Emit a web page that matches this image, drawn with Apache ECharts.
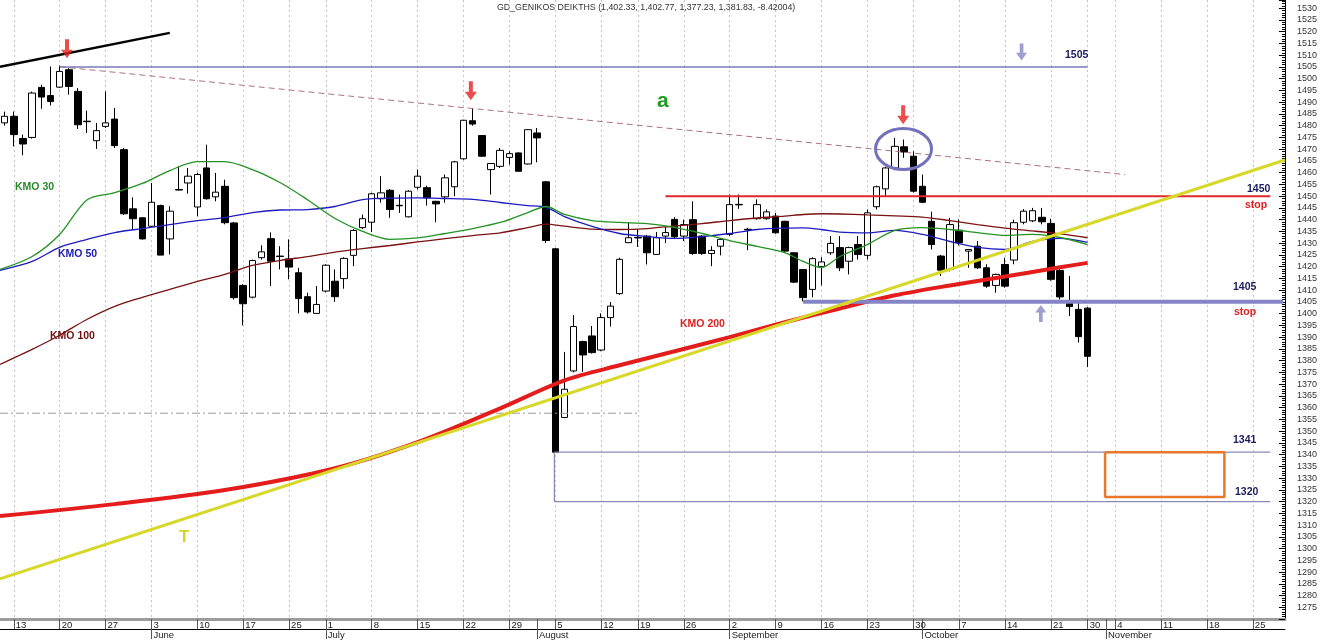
<!DOCTYPE html>
<html><head><meta charset="utf-8">
<script src="https://cdn.jsdelivr.net/npm/echarts@6/dist/echarts.min.js"></script>
<style>html,body{margin:0;padding:0;background:#fff}#c{width:1320px;height:640px}</style>
</head><body><div id="c"></div>
<script>
// ---------- DATA ----------
const N_SLOTS = 140; // trading-day slots on the x axis (incl. future)
// daily candles: [open, close, low, high], slot 0 .. 118
const candles = [
 [1481.2,1484.0,1480.0,1486.0],[1484.0,1476.2,1471.2,1486.0],[1474.5,1472.2,1467.4,1476.2],[1475.0,1493.9,1474.5,1494.5],
 [1496.3,1492.2,1487.2,1497.4],[1492.8,1490.3,1488.6,1505.2],[1496.4,1503.1,1496.0,1505.6],[1503.8,1496.7,1493.2,1504.5],
 [1494.6,1480.4,1478.6,1496.0],[1481.9,1481.7,1476.9,1486.4],[1473.6,1477.9,1470.1,1481.2],[1479.7,1481.2,1479.0,1494.6],
 [1482.8,1471.5,1470.5,1487.5],[1469.8,1442.5,1442.0,1470.5],[1444.6,1440.4,1435.8,1449.5],[1440.8,1431.8,1431.5,1441.0],
 [1437.2,1447.4,1437.0,1455.6],[1446.0,1424.9,1424.9,1446.4],[1431.8,1443.6,1425.2,1445.7],[1452.8,1452.6,1452.5,1462.7],
 [1455.6,1458.5,1451.1,1462.0],[1445.4,1459.2,1441.4,1460.0],[1462.0,1448.9,1448.5,1471.9],[1449.7,1451.7,1447.8,1459.9],
 [1454.2,1438.7,1438.0,1457.0],[1438.6,1406.8,1406.0,1439.0],[1412.0,1404.2,1395.0,1412.5],[1407.0,1422.6,1406.5,1423.0],
 [1423.8,1426.3,1423.0,1429.1],[1431.9,1422.3,1411.7,1434.6],[1424.5,1424.3,1418.8,1428.7],[1423.3,1419.8,1414.6,1431.6],
 [1417.4,1406.4,1400.1,1419.5],[1407.2,1400.7,1400.0,1408.9],[1400.1,1403.9,1400.0,1411.7],[1409.6,1420.6,1409.0,1421.0],
 [1413.8,1407.2,1405.0,1418.8],[1414.9,1423.5,1410.6,1424.0],[1424.8,1435.4,1420.2,1436.0],[1436.6,1440.4,1436.0,1442.2],
 [1438.9,1451.0,1434.7,1451.5],[1448.9,1451.4,1447.2,1458.5],[1452.5,1444.3,1440.8,1453.0],[1446.1,1445.9,1442.9,1450.7],
 [1441.2,1452.1,1441.0,1452.5],[1453.8,1458.5,1452.8,1461.3],[1453.6,1449.3,1446.0,1454.5],[1447.8,1446.7,1438.9,1448.0],
 [1449.7,1457.8,1447.2,1459.2],[1454.0,1464.6,1450.0,1465.0],[1465.9,1482.3,1465.5,1482.5],[1482.1,1480.7,1480.0,1487.5],
 [1475.8,1467.0,1466.8,1476.0],[1461.3,1463.9,1450.7,1464.0],[1462.7,1469.5,1462.0,1470.5],[1466.5,1468.1,1463.4,1469.1],
 [1468.4,1460.6,1460.5,1468.6],[1463.7,1478.3,1463.5,1478.5],[1476.9,1474.8,1464.4,1479.0],[1456.1,1431.1,1430.1,1456.5],
 [1427.6,1341.0,1341.0,1428.0],[1355.8,1367.8,1355.5,1383.7],[1375.6,1394.5,1375.0,1399.4],[1388.1,1382.4,1375.2,1388.5],
 [1390.5,1383.4,1383.0,1394.7],[1384.5,1398.3,1384.0,1400.1],[1398.3,1403.2,1394.5,1404.9],[1408.5,1423.1,1408.0,1423.8],
 [1430.2,1432.3,1430.0,1438.9],[1432.4,1432.2,1428.4,1436.0],[1433.0,1425.9,1420.9,1433.5],[1425.2,1432.3,1425.0,1434.7],
 [1433.0,1434.5,1430.0,1437.0],[1440.1,1432.7,1432.0,1441.0],[1433.0,1437.9,1430.9,1440.0],[1440.0,1425.6,1425.0,1447.8],
 [1433.0,1425.6,1425.0,1433.5],[1425.6,1426.9,1420.2,1428.7],[1428.7,1431.6,1424.8,1432.0],[1433.7,1446.4,1433.0,1450.7],
 [1446.5,1446.3,1444.6,1450.7],[1435.9,1435.7,1427.0,1436.5],[1440.4,1446.4,1440.0,1448.6],[1440.4,1443.3,1440.0,1444.3],
 [1441.5,1434.4,1434.0,1442.9],[1439.3,1426.6,1426.0,1439.5],[1425.9,1413.4,1413.0,1426.0],[1418.8,1406.8,1405.2,1419.0],
 [1410.3,1423.4,1406.9,1424.0],[1420.0,1422.0,1412.0,1424.0],[1425.9,1429.9,1425.0,1433.0],[1428.1,1419.5,1418.1,1433.0],
 [1422.3,1428.1,1416.7,1428.5],[1429.4,1425.2,1423.0,1433.0],[1424.8,1442.9,1423.0,1444.3],[1445.5,1454.0,1444.3,1454.5],
 [1453.1,1462.0,1450.0,1462.5],[1462.0,1471.2,1461.0,1474.8],[1471.0,1468.8,1466.3,1474.1],[1467.0,1452.1,1451.5,1469.1],
 [1454.2,1447.4,1447.0,1459.2],[1439.3,1429.4,1427.3,1443.4],[1424.5,1418.5,1416.0,1425.0],[1418.8,1437.9,1418.0,1440.8],
 [1435.5,1430.2,1429.0,1440.1],[1426.6,1427.3,1419.5,1427.5],[1428.7,1419.5,1419.0,1430.9],[1419.5,1411.7,1411.0,1421.0],
 [1412.0,1416.7,1408.9,1417.0],[1420.9,1411.7,1411.0,1423.8],[1422.8,1438.7,1421.0,1440.0],[1438.9,1443.6,1438.0,1444.5],
 [1439.5,1443.8,1439.0,1445.0],[1441.0,1439.1,1438.0,1445.0],[1438.4,1414.6,1414.0,1440.4],[1418.4,1407.1,1406.0,1419.0],
 [1404.9,1403.0,1399.0,1416.0],[1401.8,1390.2,1387.7,1404.7],[1402.33,1381.83,1377.23,1402.77]
];

// x-axis tick labels (slot index -> label)
const dayTickSlots  = [1,6,11,16,21,26,31,35,40,45,50,55,60,65,69,74,79,84,89,94,99,104,109,114,118,121,126,131,136];
const dayTickLabels = ['13','20','27','3','10','17','25','1','8','15','22','29','5','12','19','26','2','9','16','23','30','7','14','21','30','4','11','18','25'];
const monthSlots  = [16,35,58,79,100,120];
const monthLabels = ['June','July','August','September','October','November'];

// moving averages (slot position, value)
const maSlots = [-0.5,3,6,9,12,15,18,21,24,27,30,33,36,39,42,45,48,51,54,57,59,61,64,67,70,73,76,79,82,85,87,89,91,94,97,100,103,106,109,112,115,118];
const kmo30  = [1418.8,1424.3,1433.7,1448.5,1451.5,1455.4,1460.9,1464.7,1464.7,1461.3,1455.8,1448.5,1440.5,1435.0,1431.6,1432.2,1434.1,1436.2,1438.8,1443.0,1445.6,1442.2,1439.6,1438.8,1438.3,1436.7,1434.1,1431.1,1428.6,1426.0,1422.2,1419.6,1424.3,1429.4,1435.4,1436.6,1435.8,1434.5,1433.3,1433.7,1432.4,1429.4];
const kmo50  = [1418.4,1422.2,1428.2,1431.6,1434.5,1436.2,1437.9,1439.6,1440.9,1443.0,1444.1,1444.3,1445.6,1448.5,1449.2,1449.3,1449.0,1448.6,1447.3,1446.0,1445.2,1441.3,1437.1,1434.1,1432.8,1432.0,1432.8,1434.1,1435.8,1436.4,1436.5,1435.8,1434.7,1434.4,1435.4,1433.7,1430.7,1428.2,1427.3,1430.7,1432.0,1430.3];
const kmo100 = [1378.4,1384.8,1390.8,1397.6,1403.1,1406.9,1410.3,1413.7,1416.7,1420.5,1422.6,1424.3,1426.2,1427.7,1429.0,1430.5,1431.9,1433.2,1434.4,1436.6,1438.1,1437.2,1436.0,1435.8,1436.2,1437.3,1438.3,1439.6,1440.7,1441.5,1442.2,1442.5,1442.4,1442.0,1441.6,1441.1,1439.6,1437.9,1436.4,1435.2,1433.9,1432.3];
const ma200Slots = [-0.5,12,24,36,45,54,61,67,73,79,85,91,97,103,109,115,118];
const kmo200 = [1313.8,1318.9,1324.9,1334.2,1345.3,1359.7,1371.6,1378.0,1384.0,1390.0,1396.3,1402.2,1407.8,1412.0,1415.8,1419.7,1421.6];

// drawn annotations (slot position, value)
const trendT      = [[-0.5,1287.1],[139.5,1465.4]];
const blackTrend  = [[-0.5,1505.1],[18.0,1519.5]];
const dashedTop   = [[6.0,1505.1],[122.1,1459.2]];
const line1505    = [[6.0,1505],[118.0,1505]];
const line1450    = [[72.0,1450],[137.9,1450]];
const line1405    = [[87.0,1405],[139.3,1405]];
const line1341    = [[59.9,1341],[137.9,1341]];
const line1320    = [[59.9,1341],[59.9,1320],[137.9,1320]];
const dashDot     = [[-0.5,1357.6],[68.9,1357.6]];
const targetBox   = [[119.9,1341],[132.9,1341],[132.9,1321.9],[119.9,1321.9],[119.9,1341]];
const ellipseAt   = [[97.94,1470.1]];
const redArrows   = [[6.8,1512.8],[50.8,1494.9],[97.9,1484.7]];
const blueDown    = [[110.8,1511.4]];
const blueUp      = [[112.9,1400.1]];

const titleText = 'GD_GENIKOS DEIKTHS (1,402.33, 1,402.77, 1,377.23, 1,381.83, -8.42004)';
const notes = [
 {t:'KMO 30',  x:15,   y:187, c:'#2a8a2a', f:'bold 10.5px Liberation Sans, Arial, sans-serif'},
 {t:'KMO 50',  x:58,   y:254, c:'#1c1cb4', f:'bold 10.5px Liberation Sans, Arial, sans-serif'},
 {t:'KMO 100', x:50,   y:336, c:'#6e1010', f:'bold 10.5px Liberation Sans, Arial, sans-serif'},
 {t:'KMO 200', x:680,  y:324, c:'#e02020', f:'bold 10.5px Liberation Sans, Arial, sans-serif'},
 {t:'a',       x:657,  y:101, c:'#1f9a1f', f:'bold 21px Liberation Sans, Arial, sans-serif'},
 {t:'T',       x:179,  y:537, c:'#d4d42a', f:'bold 17px Liberation Sans, Arial, sans-serif'},
 {t:'1505',    x:1065, y:55,  c:'#1a1a5e', f:'bold 10.5px Liberation Sans, Arial, sans-serif'},
 {t:'1450',    x:1247, y:189, c:'#1a1a5e', f:'bold 10.5px Liberation Sans, Arial, sans-serif'},
 {t:'stop',    x:1245, y:205, c:'#e02020', f:'bold 10.5px Liberation Sans, Arial, sans-serif'},
 {t:'1405',    x:1233, y:287, c:'#1a1a5e', f:'bold 10.5px Liberation Sans, Arial, sans-serif'},
 {t:'stop',    x:1234, y:312, c:'#e02020', f:'bold 10.5px Liberation Sans, Arial, sans-serif'},
 {t:'1341',    x:1233, y:440, c:'#1a1a5e', f:'bold 10.5px Liberation Sans, Arial, sans-serif'},
 {t:'1320',    x:1235, y:492, c:'#1a1a5e', f:'bold 10.5px Liberation Sans, Arial, sans-serif'}
];

// ---------- CHART ----------
const slots = Array.from({length: N_SLOTS}, (_, i) => String(i));
const dayMap = new Map(dayTickSlots.map((s, i) => [s, dayTickLabels[i]]));
const monMap = new Map(monthSlots.map((s, i) => [s, monthLabels[i]]));
const tickSet = new Set([...dayTickSlots, ...monthSlots]);
const pair = (xs, ys) => xs.map((x, i) => [x, ys[i]]);
const AXF = 'Liberation Sans Narrow, Arial Narrow, Liberation Sans, Arial, sans-serif';

function seg(data, color, width, type, z, smooth) {
  return {type:'line', xAxisIndex:1, yAxisIndex:0, data, symbol:'none', silent:true, smooth: smooth || false,
    lineStyle:{color, width, type: type || 'solid'}, z: z || 3, animation:false};
}

const chart = echarts.init(document.getElementById('c'), null, {renderer:'canvas'});
chart.setOption({
  backgroundColor:'#fff',
  animation:false,
  grid:{left:0, top:0, right:35, height:620},
  xAxis:[
    {type:'category', data:slots, boundaryGap:true, position:'bottom',
     axisLine:{show:true, onZero:false, lineStyle:{color:'#9c9c9c', width:3}},
     axisTick:{show:true, alignWithLabel:true, length:10, interval:(i)=>tickSet.has(i), lineStyle:{color:'#555', width:1}},
     axisLabel:{interval:(i)=>dayMap.has(i), formatter:(v,i)=>dayMap.get(i)||'', align:'left', margin:1,
       padding:[0,0,0,2], fontSize:9.5, color:'#222', fontFamily:AXF},
     splitLine:{show:true, alignWithLabel:true, interval:(i)=>dayMap.has(i), lineStyle:{color:'#c4c4c4', width:1, type:[2,3]}}},
    {type:'value', min:-0.5, max:N_SLOTS-0.5, show:false},
    {type:'category', data:slots, boundaryGap:true, position:'bottom', offset:10,
     axisLine:{show:true, onZero:false, lineStyle:{color:'#000', width:1}},
     axisTick:{show:true, alignWithLabel:true, length:10, interval:(i)=>monMap.has(i), lineStyle:{color:'#555', width:1}},
     axisLabel:{interval:(i)=>monMap.has(i), formatter:(v,i)=>monMap.get(i)||'', align:'left', margin:1,
       padding:[0,0,0,2], fontSize:9.5, color:'#222', fontFamily:AXF},
     splitLine:{show:false}}
  ],
  yAxis:[{type:'value', position:'right', min:1270, max:1533.5, interval:5,
    axisLine:{show:true, onZero:false, lineStyle:{color:'#000', width:1}},
    axisTick:{show:true, inside:true, length:6, lineStyle:{color:'#000'}},
    minorTick:{show:true, splitNumber:5, length:3, lineStyle:{color:'#000'}},
    axisLabel:{margin:12, fontSize:9, color:'#333', fontFamily:'Liberation Sans, Arial, sans-serif',
      formatter:(v)=> (v % 5 === 0 && v > 1270) ? String(v) : ''},
    splitLine:{show:false}}],
  series:[
    {type:'candlestick', xAxisIndex:0, yAxisIndex:0, data:candles, barWidth:7, z:2,
     itemStyle:{color:'#fff', color0:'#000', borderColor:'#000', borderColor0:'#000', borderColorDoji:'#000', borderWidth:1}},
    seg(dashDot, '#9a9a9a', 1, [8,3,2,3]),
    seg(line1341, '#8a8ab6', 1.2),
    seg(line1320, '#8a8ab6', 1.2),
    seg(targetBox, '#e8782c', 2.5),
    seg(blackTrend, '#000', 2.5),
    seg(dashedTop, '#b07080', 1, [6,4]),
    seg(line1505, '#7a7ab4', 1.5),
    seg(line1450, '#e02828', 2),
    seg(pair(maSlots, kmo100), '#7a1212', 1.3, 'solid', 3, 0.3),
    seg(pair(maSlots, kmo50), '#1c1cc0', 1.3, 'solid', 3, 0.3),
    seg(pair(maSlots, kmo30), '#239323', 1.3, 'solid', 3, 0.3),
    seg(pair(ma200Slots, kmo200), '#e41c1c', 4, 'solid', 4, 0.3),
    seg(line1405, '#8484c6', 4, 'solid', 4),
    seg(trendT, '#d8d82a', 3, 'solid', 5),
    {type:'custom', xAxisIndex:1, yAxisIndex:0, data:ellipseAt, z:6, silent:true,
     renderItem:(params, api)=>{
       const c = api.coord([api.value(0), api.value(1)]);
       return {type:'ellipse', shape:{cx:c[0], cy:c[1], rx:28, ry:20.5},
               style:{fill:null, stroke:'#7272ba', lineWidth:3}};
     }},
    {type:'scatter', xAxisIndex:1, yAxisIndex:0, data:redArrows, z:6, silent:true,
     symbol:'path://M4,0 H8 V10 H12 L6,18 L0,10 H4 Z', symbolSize:[12,19], itemStyle:{color:'#e42020'}},
    {type:'scatter', xAxisIndex:1, yAxisIndex:0, data:blueDown, z:6, silent:true,
     symbol:'path://M4,0 H8 V10 H12 L6,18 L0,10 H4 Z', symbolSize:[11,17], itemStyle:{color:'#8686c6'}},
    {type:'scatter', xAxisIndex:1, yAxisIndex:0, data:blueUp, z:6, silent:true,
     symbol:'path://M6,0 L12,8 H8 V18 H4 V8 H0 Z', symbolSize:[11,17], itemStyle:{color:'#8686c6'}}
  ],
  graphic:[
    {type:'text', x:497, y:8, silent:true, style:{text:titleText, fill:'#333', font:'8.8px Liberation Sans, Arial, sans-serif', verticalAlign:'middle', align:'left'}},
    ...notes.map(n => ({type:'text', x:n.x, y:n.y, silent:true, z:10,
      style:{text:n.t, fill:n.c, font:n.f, verticalAlign:'middle', align:'left'}}))
  ]
});
</script></body></html>
